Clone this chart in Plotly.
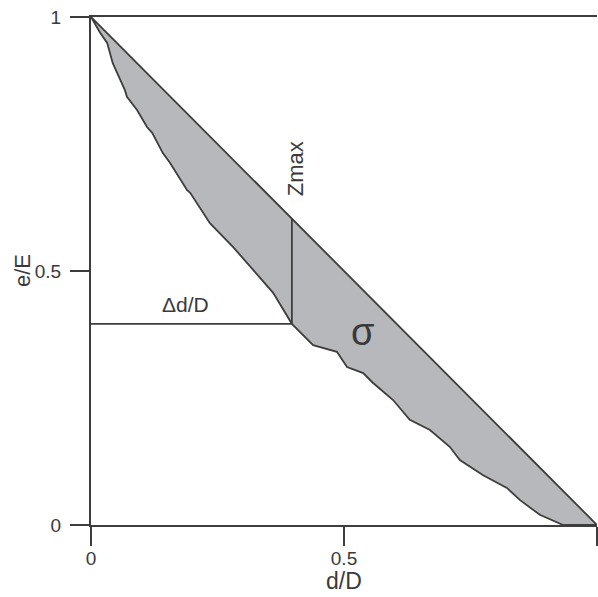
import plotly.graph_objects as go

# Lower (wavy) boundary of the shaded region
curve_x = [0.0, 0.018, 0.032, 0.043, 0.067, 0.071, 0.091, 0.111, 0.121, 0.142, 0.156,
           0.190, 0.196, 0.235, 0.281, 0.320, 0.348, 0.360, 0.397, 0.439, 0.486, 0.506,
           0.538, 0.557, 0.597, 0.630, 0.670, 0.709, 0.729, 0.775, 0.822, 0.848, 0.887,
           0.933, 1.0]
curve_y = [1.0, 0.969, 0.949, 0.909, 0.856, 0.843, 0.817, 0.783, 0.772, 0.732, 0.713,
           0.659, 0.654, 0.594, 0.547, 0.502, 0.469, 0.457, 0.396, 0.354, 0.341, 0.311,
           0.299, 0.280, 0.246, 0.207, 0.187, 0.154, 0.128, 0.098, 0.073, 0.049, 0.020,
           0.0, 0.0]
diag_x = [1.0, 0.0]
diag_y = [0.0, 1.0]
zmax_x = 0.397
delta_y = 0.396
tick_vals = [0, 0.5, 1]
tick_text = ["0", "0.5", "1"]

LINE = "#3d3d3d"
FILL = "#b7b8bb"
TXT = "#3a3a3a"
FONT = "Liberation Sans, Arial, sans-serif"

fig = go.Figure()
fig.add_trace(go.Scatter(x=curve_x + diag_x, y=curve_y + diag_y, mode="lines",
                         fill="toself", fillcolor=FILL,
                         line=dict(color=LINE, width=1.8), hoverinfo="skip"))
# Zmax vertical segment: from curve up to diagonal
fig.add_trace(go.Scatter(x=[zmax_x, zmax_x], y=[delta_y, 1 - zmax_x], mode="lines",
                         line=dict(color=LINE, width=1.8), hoverinfo="skip"))
# Δd/D horizontal segment
fig.add_trace(go.Scatter(x=[0, zmax_x], y=[delta_y, delta_y], mode="lines",
                         line=dict(color=LINE, width=1.8), hoverinfo="skip"))

axis_common = dict(range=[0, 1], showgrid=False, zeroline=False, showline=True,
                   linecolor=LINE, linewidth=2, ticks="outside", ticklen=19,
                   tickwidth=2, tickcolor=LINE, tickvals=tick_vals, ticktext=tick_text,
                   tickfont=dict(family=FONT, size=19, color=TXT), automargin=False,
                   fixedrange=True)
fig.update_xaxes(**axis_common, mirror=True, ticklabelstandoff=-4)
fig.update_yaxes(**axis_common, ticklabelstandoff=5)

fig.update_layout(
    width=598, height=597,
    margin=dict(l=91, r=1, t=17, b=72),
    paper_bgcolor="white", plot_bgcolor="white",
    showlegend=False,
    font=dict(family=FONT, color=TXT),
    annotations=[
        dict(text="d/D", x=0.5, xref="x", yref="paper", y=-(596 - 525) / 508,
             yanchor="bottom", showarrow=False, font=dict(size=23, color=TXT)),
        dict(text="e/E", xref="paper", x=-(91 - 22) / 506, xanchor="center",
             y=0.5, yref="y", showarrow=False,
             font=dict(size=22, color=TXT), textangle=-90),
        dict(text="Zmax", x=zmax_x, y=0.702, xref="x", yref="y", showarrow=False,
             font=dict(size=22, color=TXT), textangle=-90, xshift=3),
        dict(text="Δd/D", x=0.186, y=delta_y, xref="x", yref="y", showarrow=False,
             font=dict(size=21, color=TXT), yanchor="bottom", yshift=6),
        dict(text="σ", x=0.536, y=0.38, xref="x", yref="y", showarrow=False,
             font=dict(size=38, color=TXT)),
    ],
)

fig.write_html("out.html", config={"displayModeBar": False},
               post_script="document.body.style.margin='0px';"
               "document.body.style.overflow='hidden';")
